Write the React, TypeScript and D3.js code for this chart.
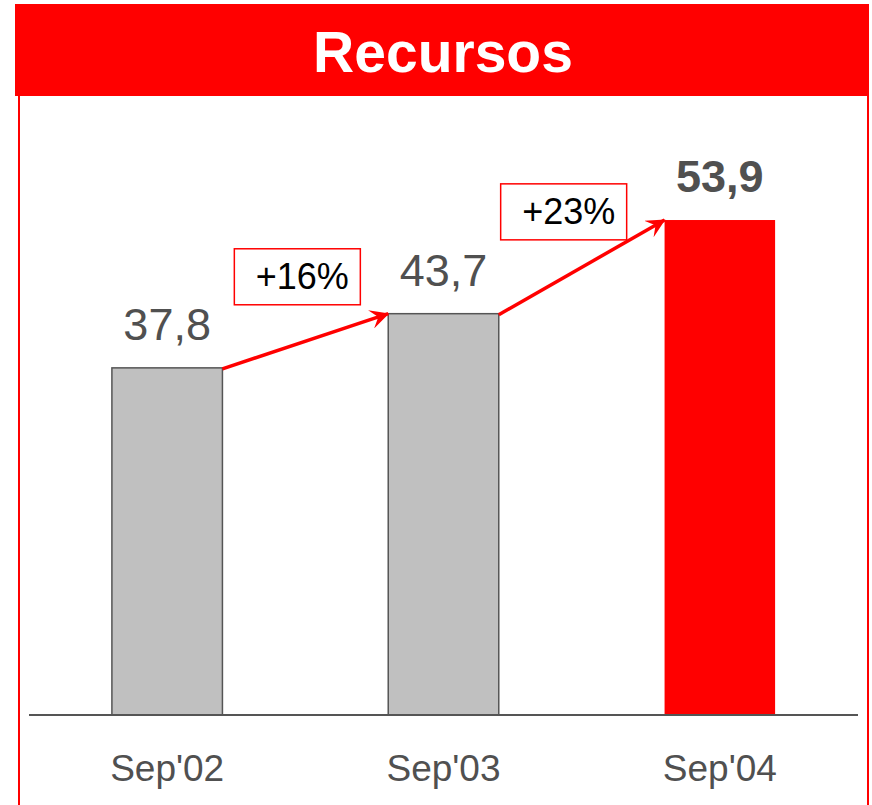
import { useEffect, useRef } from 'react';
import * as d3 from 'd3';

const categories = ['Sep\'02', 'Sep\'03', 'Sep\'04'];
const values = [37.8, 43.7, 53.9];
const valueLabels = ['37,8', '43,7', '53,9'];
const growthLabels = ['+16%', '+23%'];

const WIDTH = 872;
const HEIGHT = 805;
const RED = '#ff0000';
const GREY_TEXT = '#505050';

// where each growth box sits relative to the middle of its arrow
const boxOffsets = [
  { dx: -8, dy: -64 },
  { dx: -18, dy: -55 },
];

export default function App() {
  const svgRef = useRef<SVGSVGElement>(null);

  useEffect(() => {
    if (!svgRef.current) return;
    const svg = d3.select(svgRef.current);
    svg.selectAll('*').remove();

    const font = 'Liberation Sans, Arial, Helvetica, sans-serif';

    const x = d3.scaleBand<string>()
      .domain(categories)
      .range([29, 858])
      .paddingInner(0.6)
      .paddingOuter(0.3);

    const y = d3.scaleLinear()
      .domain([0, 60])
      .range([715, 164]);

    const defs = svg.append('defs');
    defs.append('marker')
      .attr('id', 'arrowhead')
      .attr('viewBox', '0 0 10 10')
      .attr('refX', 9.5)
      .attr('refY', 5)
      .attr('markerWidth', 25)
      .attr('markerHeight', 19)
      .attr('markerUnits', 'userSpaceOnUse')
      .attr('orient', 'auto')
      .append('path')
      .attr('d', 'M0,0 L10,5 L0,10 L4,5 Z')
      .attr('fill', RED);

    // frame + title bar
    svg.append('line')
      .attr('x1', 19).attr('x2', 19)
      .attr('y1', 90).attr('y2', HEIGHT)
      .attr('stroke', RED).attr('stroke-width', 2);
    svg.append('line')
      .attr('x1', 868).attr('x2', 868)
      .attr('y1', 90).attr('y2', HEIGHT)
      .attr('stroke', RED).attr('stroke-width', 2);
    svg.append('rect')
      .attr('x', 15).attr('y', 4)
      .attr('width', 854).attr('height', 92)
      .attr('fill', RED);
    svg.append('text')
      .attr('x', 443).attr('y', 72)
      .attr('text-anchor', 'middle')
      .attr('font-family', font)
      .attr('font-weight', 'bold')
      .attr('font-size', 57)
      .attr('fill', '#ffffff')
      .text('Recursos');

    // bars
    svg.append('g')
      .selectAll('rect')
      .data(values)
      .join('rect')
      .attr('x', (_, i) => x(categories[i])!)
      .attr('y', d => y(d))
      .attr('width', x.bandwidth())
      .attr('height', d => y(0) - y(d))
      .attr('fill', (_, i) => (i === values.length - 1 ? RED : '#c0c0c0'))
      .attr('stroke', (_, i) => (i === values.length - 1 ? 'none' : '#555555'))
      .attr('stroke-width', 1.5);

    // baseline
    svg.append('line')
      .attr('x1', 29).attr('x2', 858)
      .attr('y1', y(0)).attr('y2', y(0))
      .attr('stroke', '#555555')
      .attr('stroke-width', 2);

    // value labels
    svg.append('g')
      .selectAll('text')
      .data(values)
      .join('text')
      .attr('x', (_, i) => x(categories[i])! + x.bandwidth() / 2)
      .attr('y', d => y(d) - 28)
      .attr('text-anchor', 'middle')
      .attr('font-family', font)
      .attr('font-size', 45)
      .attr('font-weight', (_, i) => (i === values.length - 1 ? 'bold' : 'normal'))
      .attr('fill', GREY_TEXT)
      .text((_, i) => valueLabels[i]);

    // category labels
    svg.append('g')
      .selectAll('text')
      .data(categories)
      .join('text')
      .attr('x', d => x(d)! + x.bandwidth() / 2)
      .attr('y', 781)
      .attr('text-anchor', 'middle')
      .attr('font-family', font)
      .attr('font-size', 37)
      .attr('fill', GREY_TEXT)
      .text(d => d);

    // growth arrows + boxes
    const arrows = growthLabels.map((label, i) => {
      const x1 = x(categories[i])! + x.bandwidth();
      const y1 = y(values[i]);
      const x2 = x(categories[i + 1])!;
      const y2 = y(values[i + 1]);
      return { label, x1, y1, x2, y2, off: boxOffsets[i] };
    });

    const ag = svg.append('g');
    arrows.forEach(a => {
      ag.append('line')
        .attr('x1', a.x1).attr('y1', a.y1 + 1)
        .attr('x2', a.x2).attr('y2', a.y2)
        .attr('stroke', RED)
        .attr('stroke-width', 3.5)
        .attr('marker-end', 'url(#arrowhead)');

      const cx = (a.x1 + a.x2) / 2 + a.off.dx;
      const cy = (a.y1 + a.y2) / 2 + a.off.dy;
      const bw = 126;
      const bh = 56;
      ag.append('rect')
        .attr('x', cx - bw / 2).attr('y', cy - bh / 2)
        .attr('width', bw).attr('height', bh)
        .attr('fill', '#ffffff')
        .attr('stroke', RED)
        .attr('stroke-width', 1.5);
      ag.append('text')
        .attr('x', cx + 5).attr('y', cy + 12)
        .attr('text-anchor', 'middle')
        .attr('font-family', font)
        .attr('font-size', 36)
        .attr('fill', '#000000')
        .text(a.label);
    });
  }, []);

  return (
    <svg
      ref={svgRef}
      width={WIDTH}
      height={HEIGHT}
      style={{ position: 'absolute', left: 0, top: 0, background: '#ffffff' }}
    />
  );
}
